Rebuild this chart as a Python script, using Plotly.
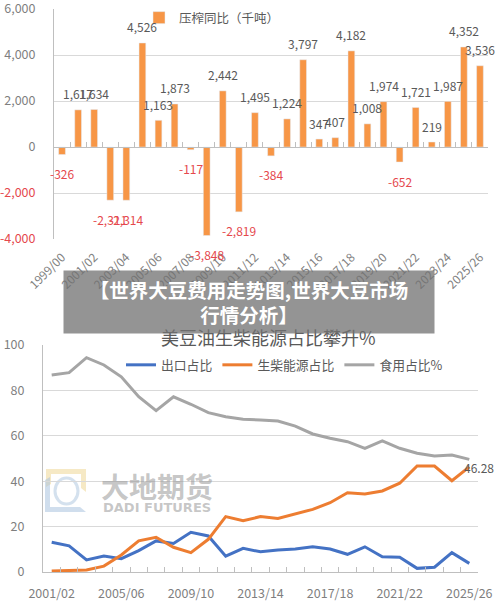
import plotly.graph_objects as go

W, H = 500, 605
FONT = "Noto Sans CJK SC"

# ---------------- data: top chart ----------------
seasons_top = ["1999/00", "2000/01", "2001/02", "2002/03", "2003/04", "2004/05",
               "2005/06", "2006/07", "2007/08", "2008/09", "2009/10", "2010/11",
               "2011/12", "2012/13", "2013/14", "2014/15", "2015/16", "2016/17",
               "2017/18", "2018/19", "2019/20", "2020/21", "2021/22", "2022/23",
               "2023/24", "2024/25", "2025/26"]
crush_yoy = [-326, 1617, 1634, -2311, -2314, 4526, 1163, 1873, -117, -3848,
             2442, -2819, 1495, -384, 1224, 3797, 347, 407, 4182, 1008,
             1974, -652, 1721, 219, 1987, 4352, 3536]
top_ticks = [-4000, -2000, 0, 2000, 4000, 6000]

# ---------------- data: bottom chart ----------------
seasons_bot = ["2001/02", "2002/03", "2003/04", "2004/05", "2005/06", "2006/07",
               "2007/08", "2008/09", "2009/10", "2010/11", "2011/12", "2012/13",
               "2013/14", "2014/15", "2015/16", "2016/17", "2017/18", "2018/19",
               "2019/20", "2020/21", "2021/22", "2022/23", "2023/24", "2024/25",
               "2025/26"]
export_share = [13.1, 11.5, 5.3, 7.0, 5.9, 9.4, 13.7, 12.6, 17.5, 15.9, 7.0, 10.4,
                8.9, 9.7, 10.1, 11.1, 10.1, 7.8, 11.1, 6.7, 6.5, 1.6, 2.1, 8.5, 3.8]
biodiesel_share = [0.4, 0.6, 0.9, 2.6, 7.5, 13.7, 15.3, 10.9, 8.5, 14.4, 24.4, 22.6,
                   24.4, 23.6, 25.6, 27.6, 30.5, 34.9, 34.4, 35.7, 39.1, 46.7, 46.7,
                   40.2, 46.28]
food_share = [86.8, 87.8, 94.4, 91.2, 86.0, 77.2, 71.1, 77.2, 73.9, 70.2, 68.4, 67.3,
              67.0, 66.5, 64.3, 60.8, 58.9, 57.4, 54.5, 57.8, 54.5, 52.3, 51.1, 51.5,
              49.6]
bot_ticks = [0, 20, 40, 60, 80, 100]

ORANGE_BAR = "#F79646"
BLUE = "#4472C4"
ORANGE = "#ED7D31"
GREY = "#A5A5A5"
RED = "#E5484D"
TXT = "#595959"
TICK = "#7F7F7F"
GRID = "#D9D9D9"
AXIS = "#BFBFBF"


def px(x):
    return x / W


def py(y):
    return 1 - y / H


top_dom_y = [py(239), py(9)]
top_range = [-4000, 6004]
zero_pos = top_dom_y[0] + (0 - top_range[0]) / (top_range[1] - top_range[0]) * (top_dom_y[1] - top_dom_y[0])

fig = go.Figure()

fig.add_trace(go.Bar(
    x=seasons_top, y=crush_yoy, name="压榨同比（千吨）",
    marker_color=ORANGE_BAR, width=0.42, xaxis="x", yaxis="y",
    legend="legend", hoverinfo="x+y"))
# carrier trace for the zero-line axis (ticks at category boundaries)
fig.add_trace(go.Scatter(
    x=seasons_top, y=crush_yoy, mode="markers", marker=dict(opacity=0),
    xaxis="x2", yaxis="y", showlegend=False, hoverinfo="skip"))

fig.add_trace(go.Scatter(x=seasons_bot, y=export_share, name="出口占比", mode="lines",
                         line=dict(color=BLUE, width=3), xaxis="x3", yaxis="y2", legend="legend2"))
fig.add_trace(go.Scatter(x=seasons_bot, y=biodiesel_share, name="生柴能源占比", mode="lines",
                         line=dict(color=ORANGE, width=3), xaxis="x3", yaxis="y2", legend="legend2"))
fig.add_trace(go.Scatter(x=seasons_bot, y=food_share, name="食用占比%", mode="lines",
                         line=dict(color=GREY, width=3), xaxis="x3", yaxis="y2", legend="legend2"))

annotations = []
# data labels on the bars
for s, v in zip(seasons_top, crush_yoy):
    annotations.append(dict(
        x=s, y=v, xref="x", yref="y", text=f"{v:,}", showarrow=False,
        xanchor="center", yanchor="middle", yshift=16 if v > 0 else -19,
        font=dict(family=FONT, size=12, color=TXT if v > 0 else RED)))

# last value label on bottom chart
annotations.append(dict(
    x=seasons_bot[-1], y=biodiesel_share[-1], xref="x3", yref="y2",
    text=f"{biodiesel_share[-1]:.2f}", showarrow=False, xanchor="left", xshift=-7,
    yanchor="middle", yshift=-1, font=dict(family=FONT, size=12, color=TXT)))

# watermark
annotations.append(dict(x=px(157), y=py(486), xref="paper", yref="paper", text="<b>大地期货</b>",
                        showarrow=False, xanchor="center", yanchor="middle",
                        font=dict(family=FONT, size=28, color="rgba(150,150,150,0.55)")))
annotations.append(dict(x=px(157), y=py(507), xref="paper", yref="paper", text="<b>DADI FUTURES</b>",
                        showarrow=False, xanchor="center", yanchor="middle",
                        font=dict(family="DejaVu Sans", size=13, color="rgba(150,150,150,0.55)")))

# bottom chart title (partly covered by the overlay box)
annotations.append(dict(x=px(268), y=py(337), xref="paper", yref="paper",
                        text="美豆油生柴能源占比攀升%", showarrow=False,
                        xanchor="center", yanchor="middle",
                        font=dict(family=FONT, size=18, color=TXT)))

# overlay headline box
annotations.append(dict(x=px(249), y=py(302), xref="paper", yref="paper",
                        text="<b>【世界大豆费用走势图,世界大豆市场<br>行情分析】</b>",
                        showarrow=False, xanchor="center", yanchor="middle",
                        width=370, height=62, bgcolor="rgba(115,115,115,0.76)",
                        borderpad=0, align="center", valign="middle",
                        font=dict(family=FONT, size=19.5, color="white")))


def path(points):
    d = "M" + " L".join(f"{px(x):.4f},{py(y):.4f}" for x, y in points) + " Z"
    return d


shapes = [
    dict(type="path", xref="paper", yref="paper", layer="below", line=dict(width=0),
         fillcolor="rgba(238,215,150,0.55)",
         path=path([(46, 469), (86, 469), (86, 492), (81, 488), (81, 474), (51, 474), (51, 484), (46, 487)])),
    dict(type="path", xref="paper", yref="paper", layer="below", line=dict(width=0),
         fillcolor="rgba(170,195,222,0.55)",
         path=path([(45, 480), (50, 477), (50, 507), (80, 507), (86, 512), (45, 512)])),
    dict(type="circle", xref="paper", yref="paper", layer="below",
         line=dict(width=3, color="rgba(170,195,222,0.5)"),
         x0=px(55), x1=px(78), y0=py(504), y1=py(478)),
]

fig.update_layout(
    width=W, height=H, margin=dict(l=0, r=0, t=0, b=0, autoexpand=False),
    paper_bgcolor="white", plot_bgcolor="white",
    font=dict(family=FONT, color=TXT),
    bargap=0.5,
    annotations=annotations, shapes=shapes,
    xaxis=dict(domain=[px(54), px(488)], anchor="y", type="category", automargin=False,
               categoryorder="array", categoryarray=seasons_top,
               range=[-0.5, len(seasons_top) - 0.5],
               tickmode="array", tickvals=seasons_top[::2], tickangle=-45,
               showline=False, ticks="", showgrid=False, ticklabelstandoff=8,
               tickfont=dict(family=FONT, size=12, color=TICK)),
    xaxis2=dict(overlaying="x", matches="x", anchor="free", position=zero_pos, automargin=False,
                type="category", categoryorder="array", categoryarray=seasons_top,
                tickmode="linear", dtick=1, tickson="boundaries", ticks="inside",
                ticklen=5, tickcolor=AXIS, showline=True, linecolor=AXIS,
                showticklabels=False, showgrid=False),
    yaxis=dict(domain=top_dom_y, anchor="x", range=top_range, automargin=False,
               tickmode="array", tickvals=top_ticks,
               ticktext=[(f"<span style='color:{RED}'>{t:,}</span>" if t < 0 else f"{t:,}") for t in top_ticks],
               showgrid=True, gridcolor=GRID, showline=True, linecolor=AXIS, zeroline=False,
               ticks="", ticklabelstandoff=15, ticklabeloverflow="allow",
               tickfont=dict(family=FONT, size=12.5, color=TICK)),
    xaxis3=dict(domain=[px(43), px(478)], anchor="y2", type="category", automargin=False,
                categoryorder="array", categoryarray=seasons_bot,
                range=[-0.5, len(seasons_bot) - 0.5],
                tickmode="array", tickvals=seasons_bot, tickangle=0,
                ticktext=[s if i % 4 == 0 else "" for i, s in enumerate(seasons_bot)],
                tickson="boundaries", ticks="inside", ticklen=5, tickcolor=AXIS,
                showline=True, linecolor=AXIS, showgrid=False, ticklabelstandoff=10,
                tickfont=dict(family=FONT, size=12.5, color=TICK)),
    yaxis2=dict(domain=[py(572), py(345)], anchor="x3", range=[0, 100], automargin=False,
                tickmode="array", tickvals=bot_ticks,
                showgrid=True, gridcolor=GRID, showline=True, linecolor=AXIS, zeroline=False,
                ticks="", ticklabelstandoff=15,
                tickfont=dict(family=FONT, size=12.5, color=TICK)),
    legend=dict(x=px(139), y=py(18), xanchor="left", yanchor="middle",
                orientation="h", bgcolor="rgba(0,0,0,0)",
                font=dict(family=FONT, size=12.5, color=TXT)),
    legend2=dict(x=px(121), y=py(365), xanchor="left", yanchor="middle",
                 orientation="h", bgcolor="rgba(0,0,0,0)",
                 font=dict(family=FONT, size=12.8, color=TXT)),
    showlegend=True,
)

fig.write_html("out.html")
